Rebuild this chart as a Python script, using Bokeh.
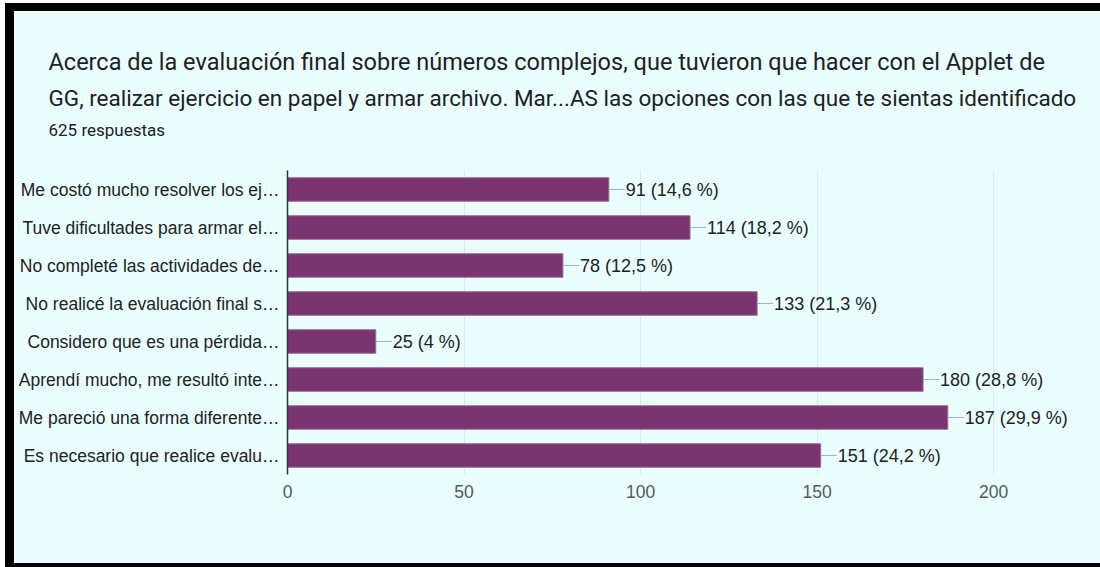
from bokeh.plotting import figure
from bokeh.models import ColumnDataSource, FactorRange, Title, BoxAnnotation, Spacer
from bokeh.layouts import column, row
from bokeh.embed import file_html
from bokeh.resources import INLINE
from bokeh.core.properties import value

categories = [
    "Me costó mucho resolver los ej…",
    "Tuve dificultades para armar el…",
    "No completé las actividades de…",
    "No realicé la evaluación final s…",
    "Considero que es una pérdida…",
    "Aprendí mucho, me resultó inte…",
    "Me pareció una forma diferente…",
    "Es necesario que realice evalu…",
]
counts = [91, 114, 78, 133, 25, 180, 187, 151]
percents = ["14,6", "18,2", "12,5", "21,3", "4", "28,8", "29,9", "24,2"]
x_ticks = [0, 50, 100, 150, 200]
title_line1 = "Acerca de  la evaluación final sobre números complejos, que tuvieron que hacer con el Applet de"
title_line2 = "GG, realizar ejercicio en papel y armar archivo. Mar...AS las opciones con las que te sientas identificado"
subtitle = "625 respuestas"

labels = [f"{c} ({p} %)" for c, p in zip(counts, percents)]
src = ColumnDataSource(dict(cat=categories, n=counts, lab=labels))

BG = "#eafefe"
BAR = "#7a3570"
GRID = "#d6eaf8"


def black_bar(w, h):
    return Spacer(width=w, height=h, styles={"background-color": "black"})


p = figure(
    width=1086, height=552,
    y_range=FactorRange(*reversed(categories)),
    x_range=(0, 226),
    output_backend="svg", toolbar_location=None, title=None,
    min_border_left=273, min_border_right=15,
    min_border_top=159, min_border_bottom=89,
    background_fill_color=BG, border_fill_color=BG,
)
p.outline_line_color = None
p.add_layout(BoxAnnotation(left=0, right=x_ticks[-1], fill_color=None,
                           line_color=GRID, line_width=1, level="underlay"))
p.hbar(y="cat", right="n", left=0, height=0.62, source=src,
       fill_color=BAR, line_color="#9c6a96", line_width=1)
p.ray(x="n", y="cat", length=16, length_units="screen", angle=0,
      source=src, line_color="#9fb2c8", line_width=1.2)
p.text(x="n", y="cat", text="lab", source=src, x_offset=17,
       text_baseline="middle", text_align="left",
       text_font=value("Liberation Sans"), text_font_size="18px",
       text_color="#222222")

p.xaxis.ticker = x_ticks
p.xaxis.axis_line_color = None
p.xaxis.major_tick_line_color = None
p.xaxis.minor_tick_line_color = None
p.xaxis.major_tick_out = 0
p.xaxis.major_label_text_font = "Liberation Sans"
p.xaxis.major_label_text_font_size = "17.5px"
p.xaxis.major_label_text_color = "#555a60"
p.xaxis.major_label_standoff = 10

p.yaxis.axis_line_color = "#333333"
p.yaxis.axis_line_width = 1.5
p.yaxis.major_tick_line_color = None
p.yaxis.minor_tick_line_color = None
p.yaxis.major_tick_out = 0
p.yaxis.major_label_text_font = "Liberation Sans"
p.yaxis.major_label_text_font_size = "17.5px"
p.yaxis.major_label_text_color = "#222222"
p.yaxis.major_label_standoff = 8

p.xgrid.grid_line_color = GRID
p.ygrid.grid_line_color = None

p.add_layout(Title(text=" ", text_font="Roboto", text_font_size="10px",
                   text_color=BG, align="left", standoff=18), "above")
p.add_layout(Title(text=subtitle, text_font="Roboto", text_font_size="17px",
                   text_font_style="normal", text_color="#202124",
                   align="left", offset=-239, standoff=0), "above")
p.add_layout(Title(text=title_line2, text_font="Roboto", text_font_size="22.5px",
                   text_font_style="normal", text_color="#202124",
                   align="left", offset=-239, standoff=14), "above")
p.add_layout(Title(text=title_line1, text_font="Roboto", text_font_size="23.5px",
                   text_font_style="normal", text_color="#202124",
                   align="left", offset=-239, standoff=0), "above")

layout = column(
    black_bar(1095, 8),
    row(black_bar(9, 552), p),
    black_bar(1095, 4),
    styles={"margin-left": "5px", "margin-top": "3px"},
)

open("out.html", "w").write(file_html(layout, INLINE))
